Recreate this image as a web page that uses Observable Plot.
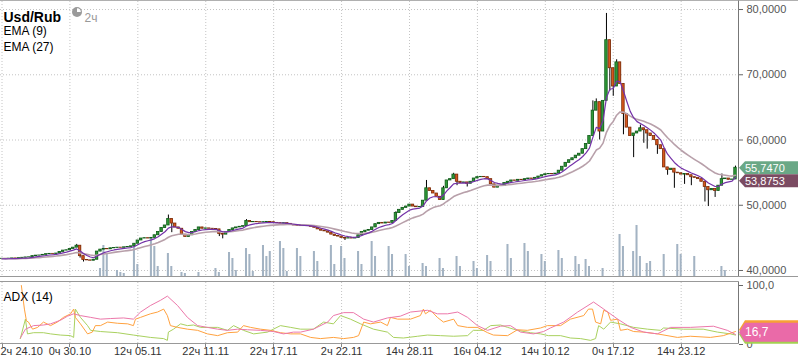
<!DOCTYPE html>
<html><head><meta charset="utf-8">
<script src="https://cdn.jsdelivr.net/npm/d3@7"></script>
<script src="https://cdn.jsdelivr.net/npm/@observablehq/plot@0.6"></script>
<style>
body{margin:0;background:#fff;}
#wrap{position:relative;width:798px;height:363px;background:#fff;font-family:"Liberation Sans",Arial,sans-serif;}
#wrap svg{display:block;}
</style></head><body><div id="wrap"></div>
<script>
// ---- data ----
const open0 = 41.78;
const closes = [
 41.80,41.78,41.82,41.85,41.83,41.90,41.95,42.00,42.02,42.20,
 42.28,42.30,42.40,42.50,42.55,42.52,42.60,42.85,43.05,43.10,
 43.30,43.50,43.80,42.20,41.60,41.55,41.50,41.65,42.90,43.20,
 43.30,43.25,43.40,43.45,43.50,43.48,43.55,43.60,43.70,44.10,
 44.60,44.90,44.95,44.90,45.00,45.40,45.90,46.50,46.90,47.90,
 47.20,46.60,46.40,45.50,45.15,45.40,45.90,46.20,46.60,46.40,
 46.45,46.40,46.35,46.30,45.60,45.50,45.90,46.20,46.45,46.60,
 46.70,46.80,47.60,47.40,47.45,47.40,47.35,47.40,47.45,47.40,
 47.30,47.25,47.20,47.25,47.15,47.00,46.90,46.85,46.80,46.85,
 46.80,46.70,46.55,46.30,46.10,46.00,45.80,45.50,45.30,45.20,
 45.00,44.90,44.95,44.90,45.00,45.40,45.90,46.10,46.20,46.60,
 47.10,47.30,47.20,47.35,47.30,47.60,48.80,49.30,49.60,49.80,
 50.10,49.80,49.70,49.75,50.70,52.60,52.20,51.80,51.30,50.80,
 52.60,53.80,54.00,54.70,53.60,53.40,53.50,53.30,53.60,54.10,
 54.30,54.35,54.30,54.00,53.20,52.70,53.00,52.95,53.40,53.60,
 53.80,53.75,53.90,53.85,54.00,54.10,54.05,54.20,54.40,54.60,
 54.75,54.80,54.75,54.85,55.30,55.90,56.50,56.90,57.20,57.60,
 57.90,58.60,59.40,60.60,64.50,65.80,61.30,66.00,75.30,71.00,
 68.20,71.90,68.60,64.00,61.90,60.60,61.00,61.30,61.80,61.50,
 61.00,60.60,60.00,59.20,58.60,55.80,55.40,55.60,55.00,54.90,
 54.70,54.80,54.60,54.30,54.20,54.00,53.60,52.80,52.30,52.50,
 52.20,53.00,54.00,54.10,53.90,53.95,55.75
];
const wickHi = [[22,44.0],[49,48.5],[72,47.8],[116,49.0],[125,53.8],[130,52.9],[133,54.9],[174,66.0],[175,66.3],[178,79.4],[181,72.3],[188,62.3],[212,54.8],[216,56.0]];
const wickLo = [[23,41.9],[24,41.3],[50,45.8],[64,45.2],[65,44.85],[101,44.6],[134,53.0],[137,52.8],[176,60.0],[179,67.5],[180,66.7],[183,60.8],[186,57.3],[189,59.5],[190,58.6],[193,57.8],[196,54.6],[198,52.6],[201,53.2],[203,53.0],[207,50.5],[208,49.8],[210,51.2]];
const volumes = [[29,16],[30,62],[31,44],[34,12],[35,8],[36,6],[39,62],[40,24],[44,76],[45,60],[46,20],[49,46],[50,20],[53,8],[54,6],[58,8],[63,16],[64,8],[67,48],[68,36],[69,12],[72,56],[73,44],[74,10],[77,62],[78,40],[79,50],[82,70],[83,56],[84,10],[87,56],[88,40],[92,50],[93,30],[97,62],[98,24],[100,60],[101,36],[105,50],[106,24],[109,70],[110,40],[114,60],[115,44],[119,44],[120,20],[124,26],[125,20],[129,36],[130,16],[134,40],[135,20],[139,30],[140,16],[143,42],[144,30],[149,64],[150,36],[154,66],[155,50],[159,44],[160,30],[164,52],[165,36],[169,40],[170,24],[172,34],[173,20],[177,16],[182,84],[183,60],[186,50],[187,102],[188,40],[190,26],[191,30],[195,44],[199,64],[200,44],[204,40],[212,20],[213,12]];
const timeTickBars = [0,20,40,60,80,100,120,140,160,180,200];
const timeTickLabels = ["2ч 24.10","0ч 30.10","12ч 05.11","22ч 11.11","22ч 17.11","2ч 22.11","14ч 28.11","16ч 04.12","14ч 10.12","0ч 17.12","14ч 23.12"];
const priceTicks = [40,50,60,70,80];
const adxTicks = [0,100];
const adxLine = [[5.4,11],[6.9,26],[9.3,32],[12.2,33],[14.3,35],[17.2,41],[19.3,48],[21.1,52],[23.1,49],[26.1,46],[29,43],[32,44],[35.8,45],[38.7,43],[40.8,55],[43.7,66],[46.7,75],[48.7,82],[51.7,66],[54.6,46],[57.6,32],[60.5,29],[63.5,26],[66.4,24],[69.4,26],[72.3,25],[76.1,24],[79.9,22],[82.9,18],[85.8,21],[87.9,21],[91.7,26],[95.9,38],[97.6,49],[100.6,54],[103.5,54],[106.5,43],[109.4,38],[113.5,45],[117.3,48],[120.3,55],[125.3,58],[128.2,52],[131.2,52],[134.2,55],[137.1,46],[140,32],[143,24],[146.8,31],[149.7,32],[152.7,21],[156.5,18],[159.5,22],[161.5,28],[165.4,38],[169.5,55],[174.2,72],[177.2,60],[181.3,43],[185.1,29],[189,21],[193,18],[196.9,29],[202.7,29],[209.5,31],[213.6,24],[216,17]];
const plusDI = [[5.7,100],[6.6,60],[7.2,40],[7.8,38],[9.0,26],[10.5,29],[12.2,38],[14.3,32],[16.3,38],[18.1,46],[20.2,52],[21.1,60],[21.6,46],[23.1,35],[25.2,18],[26.6,21],[27.5,32],[29,32],[31.1,38],[34,36],[37,35],[38.7,32],[39.3,43],[40.8,46],[43.7,52],[45.8,55],[47.6,60],[48.7,49],[49.6,32],[51.7,29],[54.6,26],[57.6,24],[60.5,18],[63.5,15],[66.4,20],[69.4,21],[71.1,32],[73.2,29],[76.1,26],[79.1,24],[82,20],[85,18],[87.9,18],[90.9,12],[93.8,10],[97.6,12],[100.6,10],[103.5,12],[105,15],[106.5,38],[108.5,35],[111.5,38],[113.5,32],[114.4,46],[116.5,43],[120.3,43],[123.2,49],[124.1,60],[124.7,52],[126.2,58],[128.2,46],[130,38],[133,43],[134.2,32],[137.1,29],[140,29],[143,20],[144.7,16],[148.9,15],[151.8,25],[154.7,24],[158.6,28],[160.6,32],[164.5,32],[167.4,43],[171.3,49],[172.7,60],[173.9,60],[174.8,38],[176.3,35],[177.2,58],[178.4,55],[179.2,41],[181.3,43],[182.1,24],[184.2,26],[186,22],[189,21],[193,18],[198.9,12],[202.7,14],[208.6,12],[212.4,15],[216,22]];
const minusDI = [[5.4,10],[6.9,43],[7.5,18],[9.3,20],[12.2,20],[14.3,18],[17.2,16],[20.2,15],[21.1,12],[21.6,60],[23.1,46],[25.2,32],[26.1,24],[29,22],[34,20],[38.7,16],[43.7,12],[47.6,10],[48.7,7],[49,21],[50.5,26],[52.6,35],[54.6,32],[56.4,33],[58.5,29],[63.5,29],[66.4,24],[68.2,32],[71.1,24],[74.1,18],[78.2,21],[82,32],[85,29],[87.9,26],[91.7,26],[94.7,38],[97.6,35],[99.7,49],[102.6,43],[105.6,35],[109.4,26],[113.5,21],[115.3,12],[118.2,11],[122.4,14],[125.3,16],[129.1,15],[133,14],[137.1,15],[138.8,24],[141.8,24],[143.9,32],[146.8,33],[148.9,29],[151.8,24],[155.6,20],[158.6,18],[160.9,15],[164.5,15],[167.4,11],[170.4,10],[173.3,7],[174.8,10],[175.7,32],[177.2,26],[179.2,38],[182.1,35],[186,29],[190.1,26],[193.9,24],[194.8,28],[200.7,26],[206.5,26],[210.7,21],[214.5,18],[216,16]];
const lastPriceLabel = 55.7470;
const emaPriceLabel = 53.8753;
const adxLastLabel = 16.7;
const emaPeriods = [9, 27];
// the original has ~30 bars per grid interval, this rebuild 20: keep the EMAs' time span
const barsPerGridOriginal = 30, barsPerGridHere = 20;

// ---- derived ----
const hiMap = new Map(wickHi), loMap = new Map(wickLo);
const bars = closes.map((c, i) => {
  const o = i ? closes[i - 1] : open0;
  return {i, o, c, up: c >= o,
    hi: Math.max(o, c, hiMap.get(i) ?? -Infinity),
    lo: Math.min(o, c, loMap.get(i) ?? Infinity)};
});
function ema(arr, n) { const a = 2 / (n + 1); let e = arr[0]; return arr.map((v, i) => i ? (e = a * v + (1 - a) * e) : e); }
const scaleP = n => n * barsPerGridHere / barsPerGridOriginal;
const ema9 = ema(closes, scaleP(emaPeriods[0])).map((v, i) => ({i, v}));
const ema27 = ema(closes, scaleP(emaPeriods[1])).map((v, i) => ({i, v}));
const yLo = 39.08, yHi = 81.23;
const volK = 0.5 / 6.525; // price units per volume unit
const xDom = [0, 216], xRange = [1.5, 735];
const fmt4 = d => d.toFixed(4).replace(".", ",");
const FONT = "Liberation Sans, Arial, sans-serif";

const main = Plot.plot({
  width: 798, height: 277, marginLeft: 0, marginRight: 60, marginTop: 1, marginBottom: 1,
  style: {background: "transparent", fontFamily: FONT, fontSize: "11px", color: "#555", overflow: "visible"},
  x: {domain: xDom, range: xRange, axis: null},
  y: {domain: [yLo, yHi], range: [276, 1], axis: null},
  marks: [
    Plot.ruleY(priceTicks, {stroke: "#c4c4c4", strokeDasharray: "1,2"}),
    Plot.ruleX(timeTickBars, {stroke: "#c4c4c4", strokeDasharray: "1,2"}),
    Plot.rect(volumes, {x1: d => d[0] - 0.3, x2: d => d[0] + 0.3, y1: yLo, y2: d => yLo + d[1] * volK, fill: "#a3b3c3"}),
    Plot.ruleX(bars, {x: "i", y1: "lo", y2: "hi", stroke: "#000", strokeWidth: 1}),
    Plot.rect(bars, {x1: d => d.i - 0.36, x2: d => d.i + 0.36, y1: "o", y2: "c",
      fill: d => d.up ? "#2f9a38" : "#d7561c", stroke: d => d.up ? "#0f5a18" : "#7d2c08", strokeWidth: 0.8}),
    Plot.line(ema27, {x: "i", y: "v", stroke: "#b8a0aa", strokeWidth: 1.6}),
    Plot.line(ema9, {x: "i", y: "v", stroke: "#7432a8", strokeWidth: 1.2}),
    Plot.axisY({anchor: "right", ticks: priceTicks, tickFormat: fmt4, tickSize: 4, tickPadding: 4, label: null, fontSize: 11, stroke: "#666"}),
    Plot.text(["Usd/Rub"], {frameAnchor: "top-left", dx: 3, dy: 11, textAnchor: "start", fontWeight: "bold", fontSize: 14, fill: "#000"}),
    Plot.text(["2ч"], {frameAnchor: "top-left", dx: 84, dy: 12, textAnchor: "start", fontSize: 12, fill: "#999"}),
    Plot.text(["EMA (9)"], {frameAnchor: "top-left", dx: 3, dy: 25, textAnchor: "start", fontSize: 12, fill: "#000"}),
    Plot.text(["EMA (27)"], {frameAnchor: "top-left", dx: 3, dy: 41, textAnchor: "start", fontSize: 12, fill: "#000"})
  ]
});

const adx = Plot.plot({
  width: 798, height: 86, marginLeft: 0, marginRight: 60, marginTop: 5, marginBottom: 20,
  style: {background: "transparent", fontFamily: FONT, fontSize: "11px", color: "#555", overflow: "visible"},
  x: {domain: xDom, range: xRange, axis: null},
  y: {domain: [0, 100], range: [67, 8], axis: null},
  marks: [
    Plot.ruleX(timeTickBars, {stroke: "#c4c4c4", strokeDasharray: "1,2"}),
    Plot.line(minusDI, {x: d => d[0], y: d => d[1], stroke: "#a9d15f", strokeWidth: 1}),
    Plot.line(plusDI, {x: d => d[0], y: d => d[1], stroke: "#ffa23f", strokeWidth: 1}),
    Plot.line(adxLine, {x: d => d[0], y: d => d[1], stroke: "#ec78aa", strokeWidth: 1}),
    Plot.axisY({anchor: "right", ticks: adxTicks, tickFormat: d => d === 100 ? "100,0" : "0", tickSize: 4, tickPadding: 4, label: null, fontSize: 11, stroke: "#666"}),
    Plot.text(timeTickBars.slice(0, 1), {x: d => d, text: () => timeTickLabels[0], frameAnchor: "bottom", dy: 11, dx: -1.5, textAnchor: "start", fontSize: 11, fill: "#333"}),
    Plot.text(timeTickBars.slice(1), {x: d => d, text: (d, i) => timeTickLabels[i + 1], frameAnchor: "bottom", dy: 11, fontSize: 11, fill: "#333"}),
    Plot.text(["ADX (14)"], {frameAnchor: "top-left", dx: 3, dy: 10, textAnchor: "start", fontSize: 12, fill: "#000"})
  ]
});

const wrap = document.getElementById("wrap");
wrap.appendChild(main);
wrap.appendChild(adx);

// ---- decorations: frames, ticks, value tags ----
const sm = d3.select(main), sa = d3.select(adx);
function line(s, x1, y1, x2, y2, c) { s.append("line").attr("x1", x1).attr("y1", y1).attr("x2", x2).attr("y2", y2).attr("stroke", c).attr("stroke-width", 1); }
line(sm, 0, 0.5, 798, 0.5, "#b0b0b0");
line(sm, 738.5, 0.5, 738.5, 276, "#777");
line(sm, 0, 276.5, 798, 276.5, "#999");
line(sa, 0, 4.5, 738.5, 4.5, "#999");
line(sa, 738.5, 4.5, 738.5, 66.5, "#777");
line(sa, 0, 66.5, 738.5, 66.5, "#999");
const xA = adx.scale("x");
timeTickBars.forEach(b => { const x = Math.round(xA.apply(b)) + 0.5; line(sa, x, 66.5, x, 70, "#888"); });

// clock icon
sm.append("circle").attr("cx", 77).attr("cy", 12).attr("r", 5).attr("fill", "#9a9a9a");
sm.append("path").attr("d", "M77,12 L77,8.2 A3.8,3.8 0 0,1 80.8,12 Z").attr("fill", "#fff");

function tag(s, yc, h, color, text, fs) {
  s.append("path").attr("d", `M739,${yc} L745,${yc - h / 2} L798,${yc - h / 2} L798,${yc + h / 2} L745,${yc + h / 2} Z`).attr("fill", color);
  if (text) s.append("text").attr("x", 745).attr("y", yc).attr("dy", "0.36em").attr("fill", "#fff")
    .attr("text-anchor", "start").attr("font-size", fs).attr("font-family", FONT).text(text);
}
const yM = main.scale("y");
const gY = yM.apply(lastPriceLabel) + 0.5;
const mY = Math.max(yM.apply(emaPriceLabel), gY + 13);
tag(sm, gY, 13, "#6aa886", fmt4(lastPriceLabel), 11);
tag(sm, mY, 13, "#7b4b62", fmt4(emaPriceLabel), 11);
const yA = adx.scale("y");
const pY = yA.apply(adxLastLabel) - 2;
tag(sa, pY - 2.5, 19, "#f7a235", null);
tag(sa, pY + 2, 19, "#a3d150", null);
tag(sa, pY, 19, "#ea6aa8", String(adxLastLabel).replace(".", ","), 12);
</script></body></html>
